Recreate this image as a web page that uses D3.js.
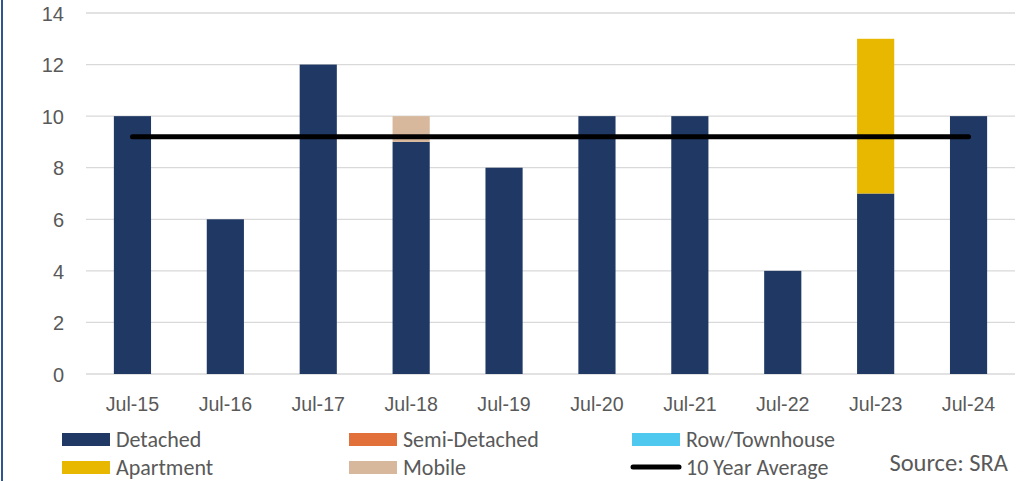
<!DOCTYPE html>
<html><head><meta charset="utf-8">
<script src="https://cdn.jsdelivr.net/npm/d3@7"></script>
<style>body{margin:0;background:#fff}svg{display:block;font-family:Carlito,"Open Sans","Liberation Sans",sans-serif}</style>
</head><body><svg id="c" width="1032" height="481"></svg>
<script>
const categories = ["Jul-15","Jul-16","Jul-17","Jul-18","Jul-19","Jul-20","Jul-21","Jul-22","Jul-23","Jul-24"];
const detached     = [10,6,12,9,8,10,10,4,7,10];
const semiDetached = [0,0,0,0,0,0,0,0,0,0];
const rowTownhouse = [0,0,0,0,0,0,0,0,0,0];
const apartment    = [0,0,0,0,0,0,0,0,6,0];
const mobile       = [0,0,0,1,0,0,0,0,0,0];
const tenYearAverage = 9.2;
const yTicks = [0,2,4,6,8,10,12,14];
const seriesNames = ["Detached","Semi-Detached","Row/Townhouse","Apartment","Mobile"];
const seriesColors = ["#203864","#E2703A","#4FC8F0","#E8B800","#D8B89C"];

const svg = d3.select("#c");
const m = {l:86, r:1015, t:13, b:374};
const x = d3.scaleBand().domain(categories).range([m.l, m.r]).paddingInner(0.6).paddingOuter(0.3);
const y = d3.scaleLinear().domain([0,14]).range([m.b, m.t]);

// left border
svg.append("line").attr("x1",2).attr("x2",2).attr("y1",0).attr("y2",481).attr("stroke","#2F5490").attr("stroke-width",2);

// gridlines
svg.append("g").selectAll("line").data(yTicks).join("line")
  .attr("x1",m.l).attr("x2",m.r).attr("y1",d=>y(d)).attr("y2",d=>y(d))
  .attr("stroke","#D9D9D9").attr("stroke-width",1.3);

// y axis labels
const yAxis = d3.axisLeft(y).tickValues(yTicks).tickSize(0).tickPadding(0);
const ga = svg.append("g").attr("transform",`translate(64,0)`).call(yAxis);
ga.select(".domain").remove();
ga.selectAll("text").attr("font-size",20).attr("fill","#595959").attr("font-family",null).attr("dy","0.36em");

// x axis labels
const xAxis = d3.axisBottom(x).tickSize(0).tickPadding(0);
const gx = svg.append("g").attr("transform",`translate(0,397)`).call(xAxis);
gx.select(".domain").remove();
gx.selectAll("text").attr("font-size",19.6).attr("fill","#595959").attr("font-family",null);

// stacked bars
const rows = categories.map((c,i)=>({cat:c, "Detached":detached[i], "Semi-Detached":semiDetached[i], "Row/Townhouse":rowTownhouse[i], "Apartment":apartment[i], "Mobile":mobile[i]}));
const stack = d3.stack().keys(seriesNames)(rows);
svg.append("g").selectAll("g").data(stack).join("g")
  .attr("fill",(d,i)=>seriesColors[i])
  .selectAll("rect").data(d=>d.filter(p=>p[1]-p[0]>0)).join("rect")
  .attr("x",d=>x(d.data.cat)).attr("width",x.bandwidth())
  .attr("y",d=>y(d[1])).attr("height",d=>y(d[0])-y(d[1]));

// average line
svg.append("line")
  .attr("x1",x(categories[0])+x.bandwidth()/2).attr("x2",x(categories[categories.length-1])+x.bandwidth()/2)
  .attr("y1",y(tenYearAverage)).attr("y2",y(tenYearAverage))
  .attr("stroke","#000").attr("stroke-width",5).attr("stroke-linecap","round");

// legend
const legendItems = [
  {name:"Detached", color:seriesColors[0], x:62, y:439},
  {name:"Semi-Detached", color:seriesColors[1], x:349, y:439},
  {name:"Row/Townhouse", color:seriesColors[2], x:632, y:439},
  {name:"Apartment", color:seriesColors[3], x:62, y:467},
  {name:"Mobile", color:seriesColors[4], x:349, y:467},
  {name:"10 Year Average", color:"#000", x:632, y:467, line:true}
];
const lg = svg.append("g").selectAll("g").data(legendItems).join("g");
lg.each(function(d){
  const g = d3.select(this);
  if(d.line){
    g.append("line").attr("x1",d.x+1).attr("x2",d.x+47).attr("y1",d.y).attr("y2",d.y)
      .attr("stroke","#000").attr("stroke-width",5).attr("stroke-linecap","round");
  } else {
    g.append("rect").attr("x",d.x).attr("y",d.y-6).attr("width",48).attr("height",13).attr("fill",d.color);
  }
  g.append("text").attr("x",d.x+54).attr("y",d.y).attr("dy","0.35em").attr("font-size",22).attr("fill","#595959").text(d.name);
});
svg.append("text").attr("x",1008).attr("y",471).attr("text-anchor","end").attr("font-size",24.5).attr("fill","#595959").text("Source: SRA");
</script></body></html>
